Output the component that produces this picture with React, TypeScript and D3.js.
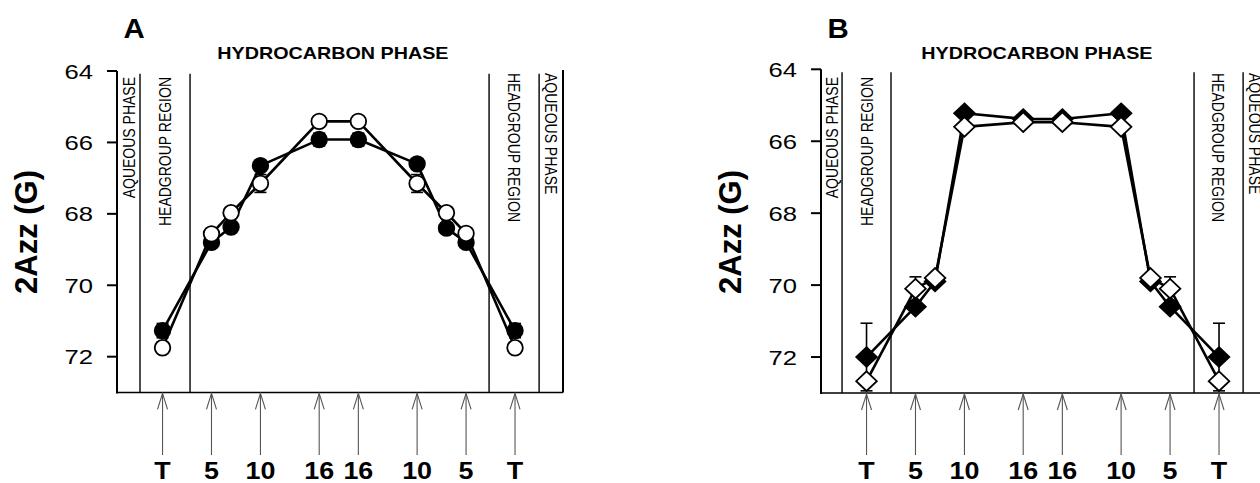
import React from "react";
import * as d3 from "d3";

// ---------- data ----------
const arrowLabels = ["T", "5", "10", "16", "16", "10", "5", "T"];
const arrowCarbons = [0, 5, 10, 16, 16, 10, 5, 0];
const pointCarbons = [0, 5, 7, 10, 16, 16, 10, 7, 5, 0];
const bilayerSpan = 36; // mirror span in carbon units (T ... T)
const yTicks = [64, 66, 68, 70, 72];
const yDomain = [64, 73];

const regionNames = ["AQUEOUS PHASE", "HEADGROUP REGION", "HYDROCARBON PHASE", "HEADGROUP REGION", "AQUEOUS PHASE"];
const aBounds = [-4.65, -2.3, 2.81, 33.35, 38.46, 40.9];
const bBounds = [-4.65, -2.5, 2.5, 33.45, 38.46, 40.9];

const aFilled = [71.27, 68.8, 68.37, 66.65, 65.92, 65.92, 66.6, 68.4, 68.8, 71.27];
const aFilledErr = [0.2, 0.1, 0.1, 0.1, 0.18, 0.18, 0.1, 0.1, 0.1, 0.2];
const aOpen = [71.75, 68.56, 67.97, 67.15, 65.41, 65.41, 67.15, 67.97, 68.55, 71.75];
const aOpenErr = [0.12, 0.1, 0.1, 0.25, 0.1, 0.1, 0.25, 0.1, 0.15, 0.12];

const bFilled = [72.0, 70.6, 69.9, 65.22, 65.38, 65.38, 65.22, 69.9, 70.6, 72.0];
const bFilledErr = [0.94, 0.05, 0.05, 0.05, 0.05, 0.05, 0.05, 0.05, 0.05, 0.94];
const bOpen = [72.67, 70.1, 69.8, 65.6, 65.47, 65.47, 65.6, 69.8, 70.1, 72.67];
const bOpenErr = [0.05, 0.33, 0.05, 0.05, 0.05, 0.05, 0.05, 0.05, 0.33, 0.05];

const FONT = "'Liberation Sans', Arial, Helvetica, sans-serif";
const CAP = 0.716;

function toU(i: number, n: number, c: number) {
  return i < n / 2 ? c : bilayerSpan - c;
}

type TxtProps = {
  x: number; y: number; rot?: number; sx?: number; fs: number; bold?: boolean;
  anchor?: "start" | "middle" | "end"; children: React.ReactNode;
};
function Txt({ x, y, rot = 0, sx = 1, fs, bold, anchor = "start", children }: TxtProps) {
  return (
    <text
      transform={`translate(${x},${y}) scale(${sx},1) rotate(${rot})`}
      fontFamily={FONT}
      fontSize={fs}
      fontWeight={bold ? "bold" : "normal"}
      textAnchor={anchor}
      fill="#000"
    >
      {children}
    </text>
  );
}

type PanelProps = {
  axisX: number; yTop: number; yBottom: number; letter: string; bounds: number[];
  filled: number[]; filledErr: number[]; open: number[]; openErr: number[];
  marker: "circle" | "diamond";
};

function Panel({ axisX, yTop, yBottom, letter, bounds, filled, filledErr, open, openErr, marker }: PanelProps) {
  const x = d3.scaleLinear().domain([bounds[0], bounds[bounds.length - 1]]).range([axisX, axisX + 446]);
  const y = d3.scaleLinear().domain(yDomain).range([yTop, yBottom]);
  const n = pointCarbons.length;
  const us = pointCarbons.map((c, i) => toU(i, n, c));
  const line = d3.line<number>().x((_, i) => x(us[i])).y((d) => y(d));

  const sxSmall = 1.22;
  const regFs = 14;

  const drawSeries = (vals: number[], errs: number[], fillCol: string, key: string) => (
    <g key={key}>
      <path d={line(vals) || ""} fill="none" stroke="#000" strokeWidth={2.6} strokeLinejoin="round" />
      {vals.map((v, i) => {
        const cx = x(us[i]);
        const y1 = y(v - errs[i]);
        const y2 = y(v + errs[i]);
        return (
          <g key={i} stroke="#000" strokeWidth={1.6}>
            <line x1={cx} x2={cx} y1={y1} y2={y2} />
            <line x1={cx - 6} x2={cx + 6} y1={y1} y2={y1} />
            <line x1={cx - 6} x2={cx + 6} y1={y2} y2={y2} />
          </g>
        );
      })}
      {vals.map((v, i) => {
        const cx = x(us[i]);
        const cy = y(v);
        if (marker === "circle") {
          return <circle key={"m" + i} cx={cx} cy={cy} r={7.8} fill={fillCol} stroke="#000" strokeWidth={1.8} />;
        }
        const w = 10.3, h = 9.8;
        return (
          <path key={"m" + i} d={`M${cx},${cy - h}L${cx + w},${cy}L${cx},${cy + h}L${cx - w},${cy}Z`}
            fill={fillCol} stroke="#000" strokeWidth={1.8} strokeLinejoin="miter" />
        );
      })}
    </g>
  );

  const bottom = y(yDomain[1]);
  const regCenters = bounds.slice(0, -1).map((b, i) => (x(b) + x(bounds[i + 1])) / 2);
  const capW = CAP * regFs * sxSmall;

  return (
    <g>
      {/* panel letter */}
      <Txt x={x(bounds[0]) + 17} y={38} fs={28} bold anchor="middle" sx={1.05}>{letter}</Txt>
      {/* hydrocarbon title */}
      <Txt x={x(17.4)} y={59} fs={17} bold anchor="middle" sx={1.16}>{regionNames[2]}</Txt>

      {/* region boundary lines */}
      {bounds.slice(1, -1).map((b, i) => (
        <line key={"rb" + i} x1={x(b)} x2={x(b)} y1={y(64.08)} y2={bottom} stroke="#000" strokeWidth={1.4} />
      ))}
      <line x1={x(bounds[bounds.length - 1])} x2={x(bounds[bounds.length - 1])} y1={y(63.97)} y2={bottom} stroke="#000" strokeWidth={2} />

      {/* region labels */}
      <Txt x={regCenters[0] + capW / 2} y={77} rot={-90} fs={regFs} sx={sxSmall} anchor="end">{regionNames[0]}</Txt>
      <Txt x={regCenters[1] + capW / 2} y={77} rot={-90} fs={regFs} sx={sxSmall} anchor="end">{regionNames[1]}</Txt>
      <Txt x={regCenters[3] - capW / 2} y={73} rot={90} fs={regFs} sx={sxSmall} anchor="start">{regionNames[3]}</Txt>
      <Txt x={regCenters[4] - capW / 2} y={73} rot={90} fs={regFs} sx={sxSmall} anchor="start">{regionNames[4]}</Txt>

      {/* axes */}
      <line x1={axisX} x2={axisX} y1={y(yDomain[0])} y2={bottom + 1} stroke="#000" strokeWidth={2} />
      <line x1={axisX} x2={x(bounds[bounds.length - 1])} y1={bottom} y2={bottom} stroke="#000" strokeWidth={1.5} />
      {yTicks.map((t) => (
        <g key={"yt" + t}>
          <line x1={axisX - 10} x2={axisX} y1={y(t)} y2={y(t)} stroke="#000" strokeWidth={2} />
          <Txt x={axisX - 24} y={y(t) + 7.5} fs={21} sx={1.22} anchor="end">{t}</Txt>
        </g>
      ))}
      <Txt x={x(bounds[0]) - 80} y={232} rot={-90} fs={31} bold anchor="middle" sx={1.0}>2Azz (G)</Txt>

      {/* arrows + position labels */}
      {arrowCarbons.map((c, i) => {
        const ax = x(toU(i, arrowCarbons.length, c));
        return (
          <g key={"ar" + i}>
            <line x1={ax} x2={ax} y1={bottom + 1} y2={455} stroke="#555" strokeWidth={1.1} />
            <polyline points={`${ax - 5},${bottom + 17} ${ax},${bottom + 1} ${ax + 5},${bottom + 17}`}
              fill="none" stroke="#555" strokeWidth={1.1} />
            <Txt x={ax} y={479} fs={24} bold anchor="middle" sx={1.12}>{arrowLabels[i]}</Txt>
          </g>
        );
      })}

      {drawSeries(filled, filledErr, "#000", "f")}
      {drawSeries(open, openErr, "#fff", "o")}
    </g>
  );
}

export default function App() {
  return (
    <svg width={1260} height={483} style={{ position: "absolute", left: 0, top: 0, background: "#fff" }}>
      <rect x={0} y={0} width={1260} height={483} fill="#fff" />
      <Panel axisX={117} yTop={71} yBottom={392.4} letter="A" bounds={aBounds}
        filled={aFilled} filledErr={aFilledErr} open={aOpen} openErr={aOpenErr} marker="circle" />
      <Panel axisX={821} yTop={69.3} yBottom={393} letter="B" bounds={bBounds}
        filled={bFilled} filledErr={bFilledErr} open={bOpen} openErr={bOpenErr} marker="diamond" />
    </svg>
  );
}
